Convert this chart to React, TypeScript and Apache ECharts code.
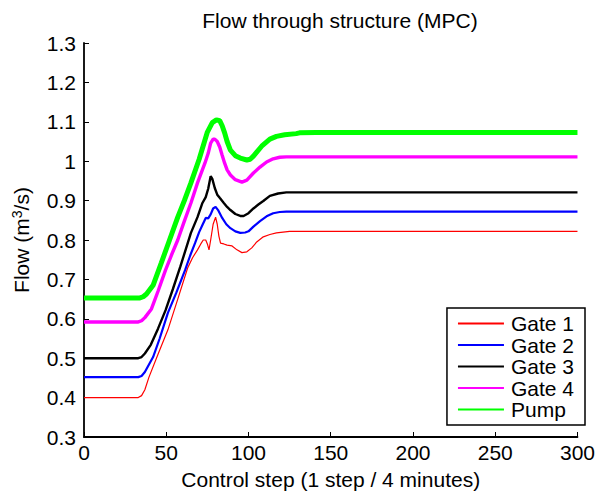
import React, { useEffect, useRef } from "react";
import * as echarts from "echarts";

const FONT = "Liberation Sans, Arial, Helvetica, sans-serif";

const seriesNames = ["Gate 1", "Gate 2", "Gate 3", "Gate 4", "Pump"];
const seriesColors = ["#ff0000", "#0000ff", "#000000", "#ff00ff", "#00ff00"];
const seriesWidths = [1.2, 2.2, 2.4, 3.4, 5];

const xTicks = { min: 0, max: 300, interval: 50 };
const yTicks = { min: 0.3, max: 1.3, interval: 0.1 };

const gate1: [number, number][] = [
  [0, 0.4], [33, 0.4], [35, 0.405], [37, 0.42], [39.5, 0.452], [45, 0.51], [51, 0.572],
  [57, 0.65], [63, 0.729], [66, 0.755], [69, 0.775], [71, 0.79], [72.5, 0.8], [74, 0.8],
  [75, 0.79], [76, 0.775], [77, 0.8], [78.5, 0.84], [80, 0.858], [81, 0.84], [82, 0.81],
  [83, 0.792], [85, 0.79], [87, 0.787], [90, 0.785], [93, 0.775], [96, 0.768], [99, 0.77],
  [102, 0.78], [105, 0.795], [109, 0.808], [113, 0.814], [117, 0.818], [121, 0.82],
  [125, 0.822], [300, 0.822],
];

const gate2: [number, number][] = [
  [0, 0.452], [33, 0.452], [35, 0.455], [37, 0.465], [42, 0.503], [46, 0.55], [51, 0.615],
  [56, 0.665], [61.5, 0.724], [64.5, 0.76], [67.5, 0.792], [70, 0.82], [72, 0.838],
  [74, 0.856], [75.5, 0.855], [77, 0.865], [78.5, 0.88], [80, 0.884], [81.5, 0.876],
  [84, 0.856], [86.5, 0.84], [89, 0.83], [92, 0.822], [95, 0.818], [98, 0.819], [100, 0.822],
  [103, 0.834], [107, 0.848], [111, 0.86], [115, 0.868], [119, 0.871], [123, 0.872],
  [300, 0.872],
];

const gate3: [number, number][] = [
  [0, 0.5], [33, 0.5], [35, 0.503], [37, 0.512], [40.6, 0.534], [45, 0.575], [49.6, 0.622],
  [54, 0.675], [58.6, 0.733], [62, 0.778], [65, 0.818], [69, 0.858], [72, 0.894], [74, 0.909],
  [75.5, 0.93], [77, 0.962], [78, 0.955], [79.5, 0.932], [81, 0.915], [82.5, 0.907],
  [85, 0.894], [87, 0.884], [89, 0.876], [92, 0.866], [95, 0.861], [97, 0.861], [100, 0.868],
  [103, 0.88], [106, 0.89], [109, 0.899], [113, 0.912], [118, 0.918], [123, 0.921],
  [300, 0.921],
];

const gate4: [number, number][] = [
  [0, 0.592], [33, 0.592], [35, 0.595], [37, 0.603], [41, 0.625], [45, 0.67], [49.6, 0.724],
  [53, 0.76], [57, 0.8], [61, 0.848], [65, 0.894], [69, 0.945], [73.5, 0.995], [75.5, 1.02],
  [77, 1.046], [78.5, 1.056], [79.5, 1.056], [81, 1.05], [82.5, 1.036], [84, 1.015],
  [85.5, 0.995], [87, 0.978], [89, 0.965], [92, 0.953], [96, 0.947], [99, 0.952], [103, 0.97],
  [107, 0.985], [111, 0.998], [115, 1.006], [119, 1.01], [123, 1.011], [300, 1.011],
];

const pump: [number, number][] = [
  [0, 0.653], [34, 0.653], [36, 0.656], [38, 0.663], [42, 0.685], [47, 0.742], [52, 0.8],
  [57, 0.858], [61, 0.9], [65, 0.945], [70, 1.005], [75, 1.074], [78, 1.098], [80.5, 1.105],
  [82.5, 1.103], [84, 1.09], [85.5, 1.072], [87, 1.05], [89, 1.028], [92, 1.014], [95, 1.008],
  [99, 1.003], [101, 1.005], [103, 1.013], [105, 1.023], [108, 1.038], [113, 1.056],
  [117, 1.063], [122, 1.067], [129, 1.07], [131, 1.072], [141, 1.073], [300, 1.073],
];

const seriesData = [gate1, gate2, gate3, gate4, pump];

export default function App() {
  const ref = useRef<HTMLDivElement>(null);

  useEffect(() => {
    if (!ref.current) return;
    const chart = echarts.init(ref.current, undefined, { renderer: "svg" });
    chart.setOption({
      animation: false,
      backgroundColor: "#ffffff",
      title: {
        text: "Flow through structure (MPC)",
        left: 335,
        top: 5,
        textAlign: "center",
        textStyle: { fontFamily: FONT, fontSize: 21, fontWeight: "normal", color: "#000" },
      },
      grid: { left: 84, right: 12, top: 43, bottom: 59, containLabel: false },
      legend: {
        orient: "vertical",
        right: 13,
        bottom: 71,
        itemWidth: 46,
        itemHeight: 14,
        itemGap: 0.5,
        padding: [5, 11, 5, 10],
        borderColor: "#000",
        borderWidth: 1.5,
        backgroundColor: "#fff",
        itemStyle: { opacity: 0 },
        textStyle: { fontFamily: FONT, fontSize: 21, lineHeight: 20, color: "#000", padding: [0, 0, 0, 2] },
        data: seriesNames,
      },
      xAxis: {
        type: "value",
        min: xTicks.min,
        max: xTicks.max,
        interval: xTicks.interval,
        name: "Control step (1 step / 4 minutes)",
        nameLocation: "middle",
        nameGap: 32,
        nameTextStyle: { fontFamily: FONT, fontSize: 21, color: "#000" },
        axisLine: { show: true, lineStyle: { color: "#000", width: 1.8 } },
        axisTick: { show: true, inside: true, length: 5, lineStyle: { color: "#000", width: 1 } },
        axisLabel: { fontFamily: FONT, fontSize: 21, color: "#000", margin: 5 },
        splitLine: { show: false },
      },
      yAxis: {
        type: "value",
        min: yTicks.min,
        max: yTicks.max,
        interval: yTicks.interval,
        name: "Flow (m{sup|3}/s)",
        nameLocation: "middle",
        nameGap: 52,
        nameRotate: 90,
        nameTextStyle: {
          fontFamily: FONT,
          fontSize: 21,
          color: "#000",
          rich: { sup: { fontFamily: FONT, fontSize: 14, verticalAlign: "top", padding: [0, 0, 8, 0], color: "#000" } },
        },
        axisLine: { show: true, lineStyle: { color: "#000", width: 1.8 } },
        axisTick: { show: true, inside: true, length: 5, lineStyle: { color: "#000", width: 1 } },
        axisLabel: {
          fontFamily: FONT,
          fontSize: 21,
          color: "#000",
          margin: 8,
          formatter: (v: number) => String(+v.toFixed(1)),
        },
        splitLine: { show: false },
      },
      series: seriesNames.map((name, i) => ({
        name,
        type: "line",
        data: seriesData[i],
        showSymbol: false,
        symbol: "none",
        color: seriesColors[i],
        itemStyle: { opacity: 0 },
        lineStyle: { color: seriesColors[i], width: seriesWidths[i] },
        z: 2 + i,
      })),
    });
    return () => chart.dispose();
  }, []);

  return (
    <div
      ref={ref}
      style={{ position: "absolute", left: 0, top: 0, width: 598, height: 496 }}
    />
  );
}
